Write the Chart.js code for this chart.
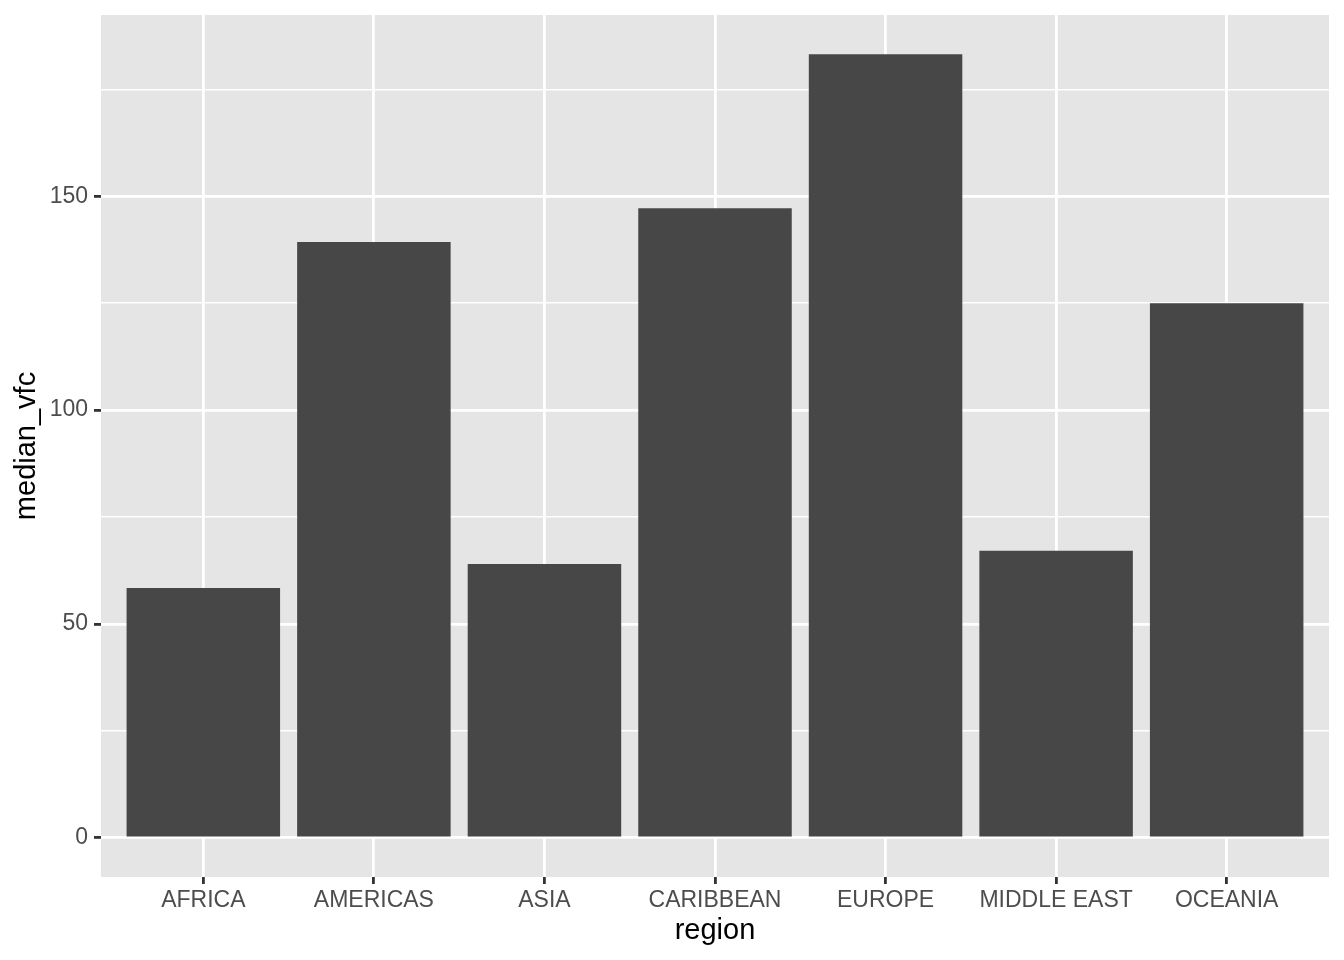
<!DOCTYPE html>
<html>
<head>
<meta charset="utf-8">
<script src="https://cdn.jsdelivr.net/npm/chart.js@4"></script>
<style>
html,body{margin:0;padding:0;background:#fff;}
#wrap{width:1344px;height:960px;}
</style>
</head>
<body>
<div id="wrap"><canvas id="c" width="1344" height="960"></canvas></div>
<script>
const categories = ["AFRICA","AMERICAS","ASIA","CARIBBEAN","EUROPE","MIDDLE EAST","OCEANIA"];
const medianVfc = [58.4, 139.3, 64.0, 147.2, 183.2, 67.1, 125.0];
const yTicks = [0, 25, 50, 75, 100, 125, 150, 175];
const yLabelTicks = [0, 50, 100, 150];

const panelBg = {
  id: 'panelBg',
  beforeDraw(chart) {
    const {ctx, chartArea: a} = chart;
    ctx.save();
    ctx.fillStyle = '#E5E5E5';
    ctx.fillRect(a.left, a.top, a.right - a.left, a.bottom - a.top);
    ctx.restore();
  }
};

const points = categories.map((c, i) => ({x: i + 1, y: medianVfc[i]}));

new Chart(document.getElementById('c'), {
  type: 'bar',
  data: {
    datasets: [{
      data: points,
      backgroundColor: '#474747',
      borderWidth: 0,
      barPercentage: 0.9,
      categoryPercentage: 1.0
    }]
  },
  options: {
    responsive: false,
    animation: false,
    devicePixelRatio: 1,
    layout: {padding: {top: 15, right: 15, left: 0, bottom: 0}},
    plugins: {legend: {display: false}, tooltip: {enabled: false}},
    scales: {
      x: {
        type: 'linear',
        min: 0.4,
        max: 7.6,
        offset: false,
        afterBuildTicks(scale) {
          scale.ticks = categories.map((c, i) => ({value: i + 1}));
        },
        afterFit(scale) { scale.height = 83; scale.paddingLeft = 0; scale.paddingRight = 0; },
        border: {display: false},
        grid: {
          offset: false,
          color: '#FFFFFF',
          lineWidth: 2.8,
          drawTicks: true,
          tickLength: 7,
          tickColor: '#333333',
          tickWidth: 2.8
        },
        ticks: {
          autoSkip: false,
          maxRotation: 0,
          padding: 3,
          color: '#4D4D4D',
          font: {family: 'Liberation Sans', size: 23},
          callback: (v) => categories[Math.round(v) - 1] || ''
        },
        title: {
          display: true,
          text: 'region',
          color: '#000000',
          font: {family: 'Liberation Sans', size: 29},
          padding: {top: 0, bottom: 12}
        }
      },
      y: {
        type: 'linear',
        min: -9.16,
        max: 192.36,
        afterBuildTicks(scale) {
          scale.ticks = yTicks.map(v => ({value: v}));
        },
        afterFit(scale) { scale.width = 101; scale.paddingTop = 0; scale.paddingBottom = 0; },
        border: {display: false},
        grid: {
          color: '#FFFFFF',
          lineWidth: (ctx) => (yLabelTicks.includes(ctx.tick && ctx.tick.value) ? 2.8 : 1.4),
          drawTicks: true,
          tickLength: 7,
          tickColor: (ctx) => (yLabelTicks.includes(ctx.tick && ctx.tick.value) ? '#333333' : 'rgba(0,0,0,0)'),
          tickWidth: 2.8
        },
        ticks: {
          padding: 6,
          color: '#4D4D4D',
          font: {family: 'Liberation Sans', size: 23},
          callback: (v) => (yLabelTicks.includes(v) ? String(v) : '')
        },
        title: {
          display: true,
          text: 'median_vfc',
          color: '#000000',
          font: {family: 'Liberation Sans', size: 29},
          padding: {top: 10, bottom: 0}
        }
      }
    }
  },
  plugins: [panelBg]
});
</script>
</body>
</html>
